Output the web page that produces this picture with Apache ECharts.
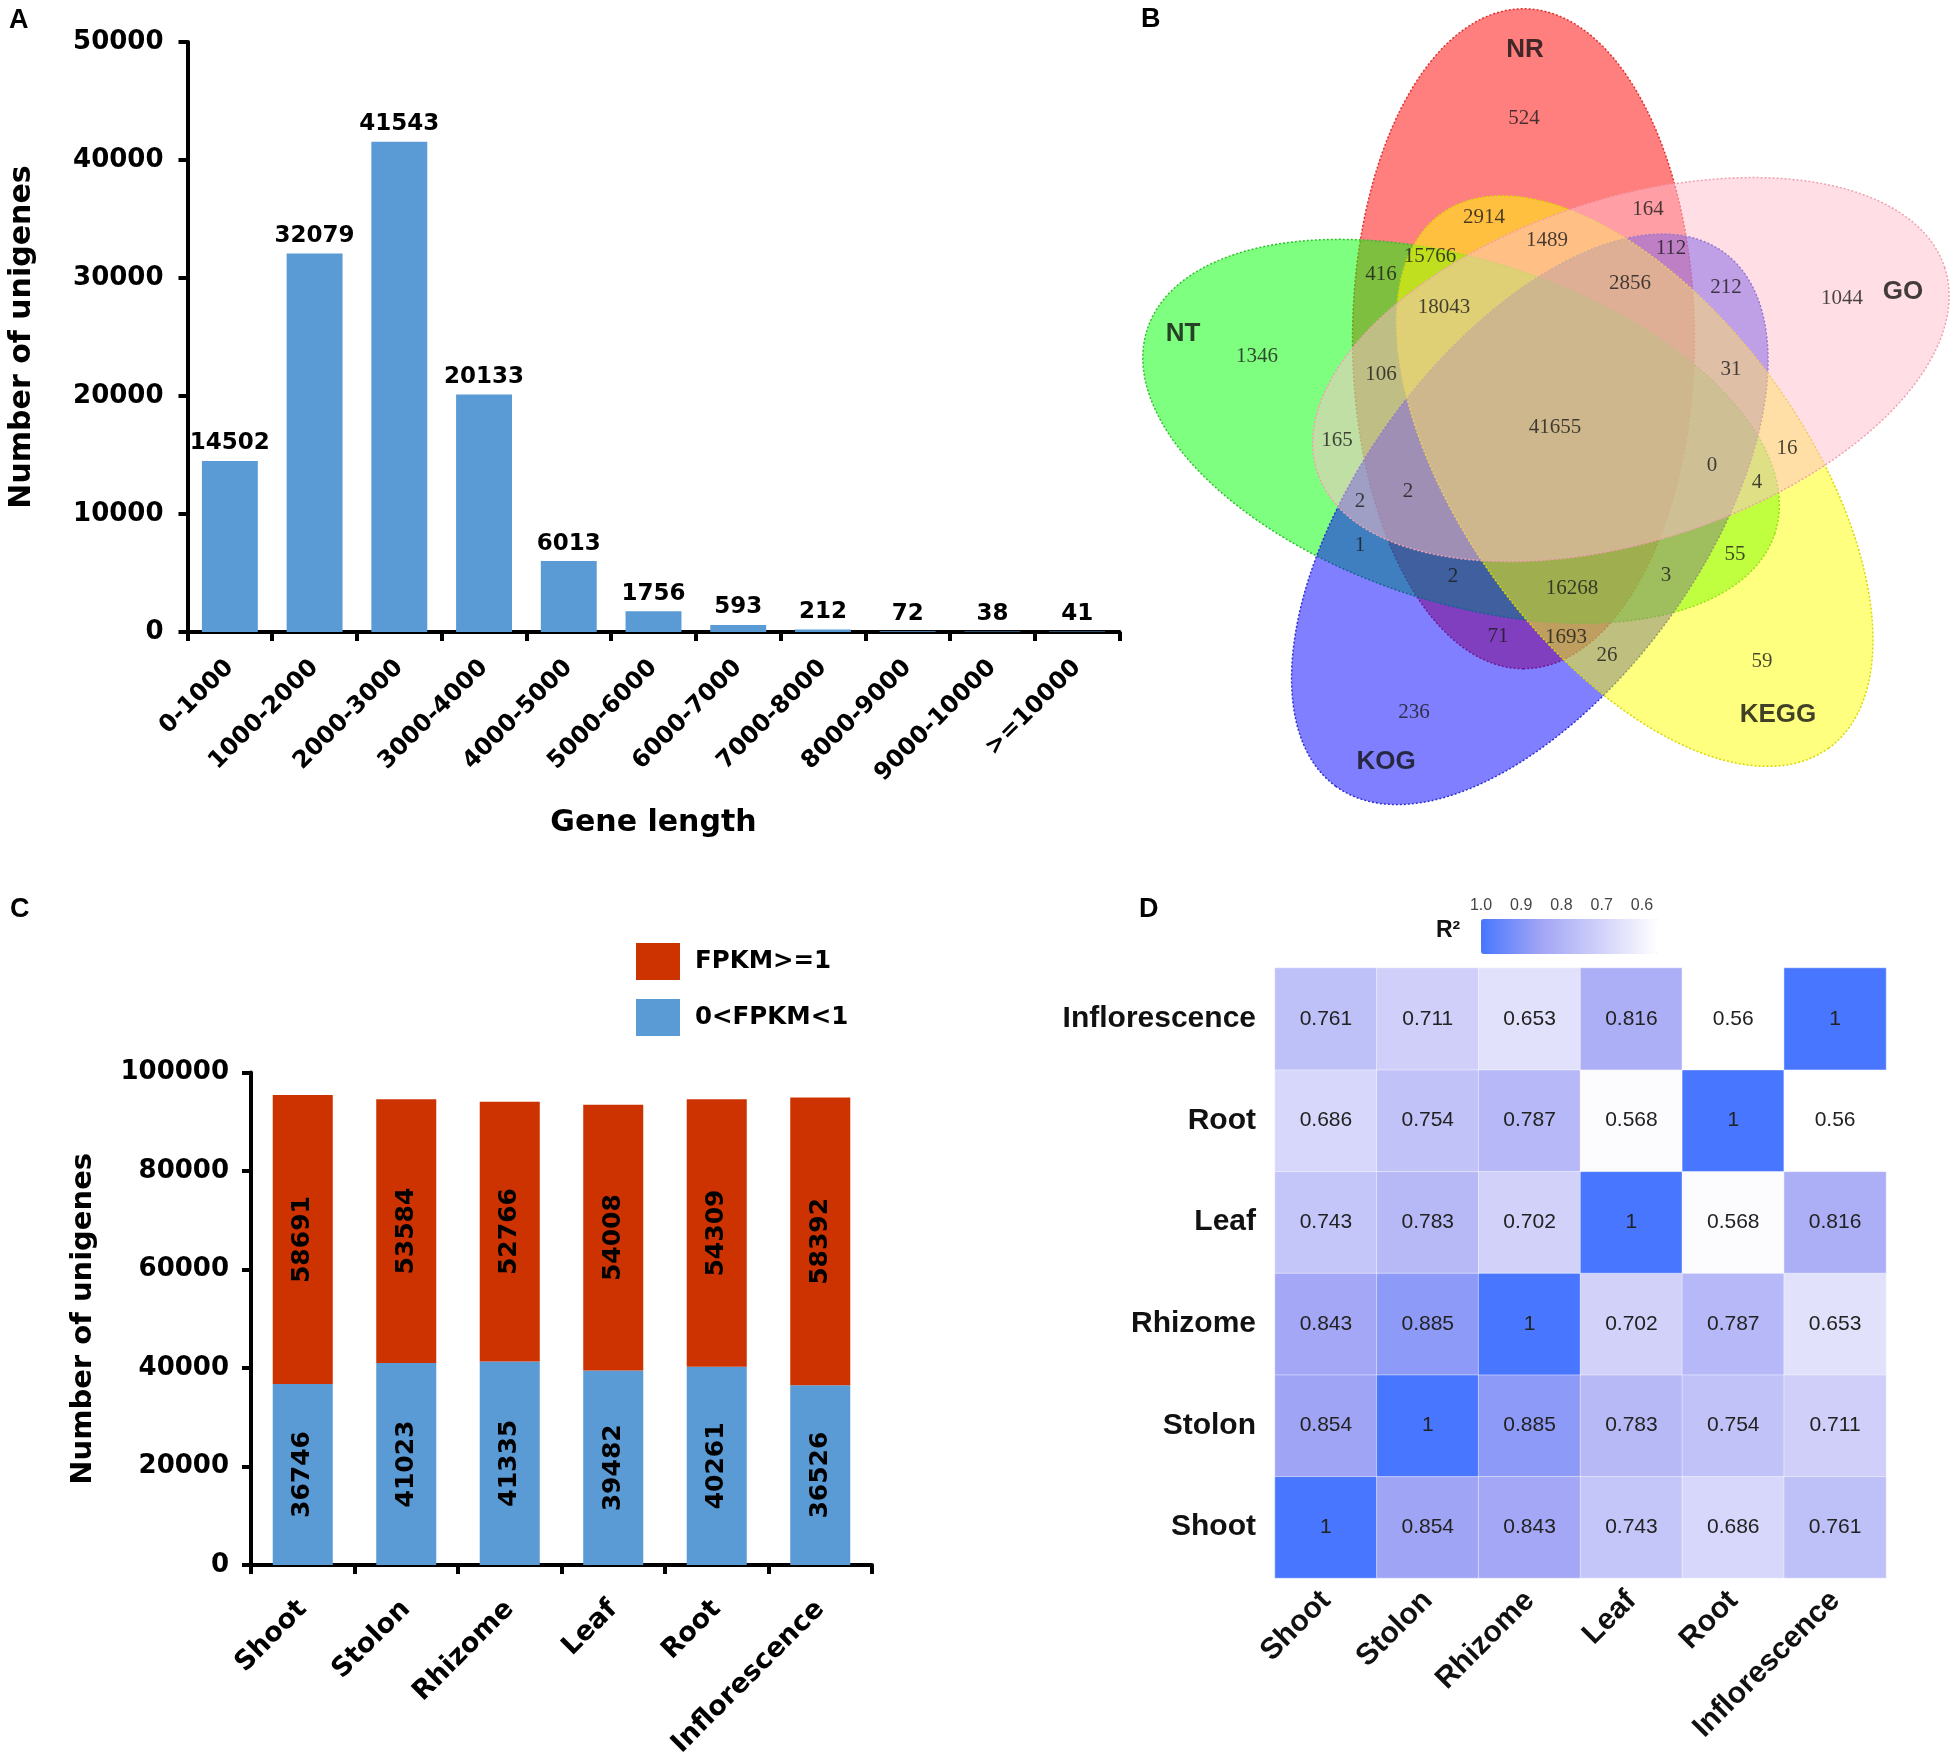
<!DOCTYPE html>
<html>
<head>
<meta charset="utf-8">
<script src="https://cdn.jsdelivr.net/npm/echarts@6/dist/echarts.min.js"></script>
<style>html,body{margin:0;padding:0;background:#fff;}#main{width:1955px;height:1760px;}</style>
</head>
<body>
<div id="main"></div>
<script>
// ---------------- DATA ----------------
const geneLengthCats = ['0-1000','1000-2000','2000-3000','3000-4000','4000-5000','5000-6000','6000-7000','7000-8000','8000-9000','9000-10000','>=10000'];
const geneLengthCounts = [14502, 32079, 41543, 20133, 6013, 1756, 593, 212, 72, 38, 41];

const vennSetNames = ['NR', 'NT', 'KOG', 'KEGG', 'GO'];
const vennCounts = [524, 2914, 164, 1489, 112, 15766, 416, 2856, 212, 18043, 1044, 1346, 106, 31, 41655, 165, 16, 0, 4, 2, 2, 1, 55, 2, 3, 16268, 71, 1693, 26, 59, 236];

const tissues = ['Shoot', 'Stolon', 'Rhizome', 'Leaf', 'Root', 'Inflorescence'];
const fpkmLow = [36746, 41023, 41335, 39482, 40261, 36526];
const fpkmHigh = [58691, 53584, 52766, 54008, 54309, 58392];

const corrShoot = [1, 0.854, 0.843, 0.743, 0.686, 0.761];
const corrStolon = [0.854, 1, 0.885, 0.783, 0.754, 0.711];
const corrRhizome = [0.843, 0.885, 1, 0.702, 0.787, 0.653];
const corrLeaf = [0.743, 0.783, 0.702, 1, 0.568, 0.816];
const corrRoot = [0.686, 0.754, 0.787, 0.568, 1, 0.56];
const corrInflorescence = [0.761, 0.711, 0.653, 0.816, 0.56, 1];
const r2Ticks = [0.6, 0.7, 0.8, 0.9, 1.0];

// ---------------- LAYOUT (Venn geometry, label placement in local venn units) ----------------
const VENN = {
  center: [456, 428], offset: 95, a: 330, b: 171,
  // per set: direction of ellipse centre from diagram centre, major-axis orientation (deg, screen)
  geom: { NR: [250, 90], GO: [322, -18], KEGG: [34, 54], KOG: [106, 126], NT: [178, 18] },
  fill: { NR: 'rgba(255,0,0,0.5)', NT: 'rgba(0,255,0,0.5)', KOG: 'rgba(0,0,255,0.5)', KEGG: 'rgba(255,255,0,0.5)', GO: 'rgba(255,192,203,0.5)' },
  stroke: { NR: '#e03030', NT: '#30c030', KOG: '#3030d0', KEGG: '#d8d800', GO: '#f0a0b0' },
  setLabelPos: { NR: [425, 50], GO: [803, 292], NT: [83, 334], KEGG: [678, 715], KOG: [286, 762] }
};
const vennCountPos = [[424,118],[384,217],[548,209],[447,240],[571,248],[330,256],[281,274],[530,283],[626,287],[344,307],[742,298],[157,356],[281,374],[631,369],[455,427],[237,440],[687,448],[612,465],[657,482],[308,491],[260,501],[260,545],[635,554],[353,576],[566,575],[472,588],[398,636],[466,637],[507,655],[662,661],[314,712]];

// ---------------- BUILD ----------------
const corrRows = [corrShoot, corrStolon, corrRhizome, corrLeaf, corrRoot, corrInflorescence];
const heatData = [];
corrRows.forEach((row, r) => row.forEach((v, c) => heatData.push([c, r, v])));

const BOLD = "'DejaVu Sans', sans-serif";
const ARIAL = "'Liberation Sans', Arial, sans-serif";
const plain = v => String(v);

const chart = echarts.init(document.getElementById('main'), null, { renderer: 'canvas' });

const letterStyle = { fontFamily: ARIAL, fontWeight: 'bold', fontSize: 27, color: '#000' };

const option = {
  backgroundColor: '#fff',
  animation: false,
  title: [
    { text: 'A', left: 9, top: 7, padding: 0, textStyle: letterStyle },
    { text: 'B', left: 1141, top: 6, padding: 0, textStyle: letterStyle },
    { text: 'C', left: 10, top: 896, padding: 0, textStyle: letterStyle },
    { text: 'D', left: 1139, top: 896, padding: 0, textStyle: letterStyle },
    { text: 'R²', left: 1436, top: 919, padding: 0, textStyle: { fontFamily: ARIAL, fontWeight: 'bold', fontSize: 23, color: '#111' } }
  ],
  legend: {
    data: ['FPKM>=1', '0<FPKM<1'],
    orient: 'vertical', left: 636, top: 943, padding: 0,
    itemWidth: 44, itemHeight: 37, itemGap: 19, icon: 'rect', selectedMode: false,
    textStyle: { fontFamily: BOLD, fontWeight: 'bold', fontSize: 24.5, color: '#000', padding: [0, 0, 0, 10] }
  },
  grid: [
    { left: 187.5, top: 42, width: 932, height: 590, outerBoundsMode: 'none' },
    { left: 251, top: 1072.6, width: 621, height: 492.4, outerBoundsMode: 'none' },
    { left: 1275, top: 968, width: 611, height: 610, outerBoundsMode: 'none' },
    { left: 1481, top: 919, width: 177, height: 35, outerBoundsMode: 'none' },
    { left: 1100, top: 0, width: 855, height: 850, outerBoundsMode: 'none' }
  ],
  xAxis: [
    {
      gridIndex: 0, type: 'category', data: geneLengthCats,
      axisLine: { lineStyle: { color: '#000', width: 4 } },
      axisTick: { show: true, length: 9, lineStyle: { color: '#000', width: 4 } },
      axisLabel: { rotate: 45, margin: 32, interval: 0, fontFamily: BOLD, fontWeight: 'bold', fontSize: 24, color: '#000' },
      name: 'Gene length', nameLocation: 'middle', nameGap: 176,
      nameTextStyle: { fontFamily: BOLD, fontWeight: 'bold', fontSize: 30, color: '#000' }
    },
    {
      gridIndex: 1, type: 'category', data: tissues,
      axisLine: { lineStyle: { color: '#000', width: 4 } },
      axisTick: { show: true, length: 9, lineStyle: { color: '#000', width: 4 } },
      axisLabel: { rotate: 45, margin: 40, interval: 0, fontFamily: BOLD, fontWeight: 'bold', fontSize: 27, color: '#000' }
    },
    {
      gridIndex: 2, type: 'category', data: tissues,
      axisLine: { show: false }, axisTick: { show: false },
      axisLabel: { rotate: 45, margin: 18, interval: 0, fontFamily: ARIAL, fontWeight: 'bold', fontSize: 30, color: '#111' }
    },
    {
      gridIndex: 3, type: 'value', min: 0.56, max: 1.0, inverse: true, position: 'top', z: 10,
      axisLine: { show: false }, splitLine: { show: false },
      axisTick: { show: true, inside: true, length: 5, customValues: r2Ticks, lineStyle: { color: '#ffffff', width: 1.5 } },
      axisLabel: { customValues: r2Ticks, formatter: v => v.toFixed(1), margin: 5, fontFamily: ARIAL, fontSize: 16, color: '#444' }
    },
    { gridIndex: 4, type: 'value', min: 0, max: 855, show: false }
  ],
  yAxis: [
    {
      gridIndex: 0, type: 'value', min: 0, max: 50000, interval: 10000,
      axisLine: { show: true, lineStyle: { color: '#000', width: 4 } },
      axisTick: { show: true, length: 9, lineStyle: { color: '#000', width: 4 } },
      splitLine: { show: false },
      axisLabel: { margin: 24, formatter: plain, fontFamily: BOLD, fontWeight: 'bold', fontSize: 26, color: '#000' },
      name: 'Number of unigenes', nameLocation: 'middle', nameRotate: 90, nameGap: 150,
      nameTextStyle: { fontFamily: BOLD, fontWeight: 'bold', fontSize: 30, color: '#000' }
    },
    {
      gridIndex: 1, type: 'value', min: 0, max: 100000, interval: 20000,
      axisLine: { show: true, lineStyle: { color: '#000', width: 4 } },
      axisTick: { show: true, length: 9, lineStyle: { color: '#000', width: 4 } },
      splitLine: { show: false },
      axisLabel: { margin: 22, formatter: plain, fontFamily: BOLD, fontWeight: 'bold', fontSize: 26, color: '#000' },
      name: 'Number of unigenes', nameLocation: 'middle', nameRotate: 90, nameGap: 153,
      nameTextStyle: { fontFamily: BOLD, fontWeight: 'bold', fontSize: 29, color: '#000' }
    },
    {
      gridIndex: 2, type: 'category', data: tissues,
      axisLine: { show: false }, axisTick: { show: false },
      axisLabel: { margin: 19, fontFamily: ARIAL, fontWeight: 'bold', fontSize: 30, color: '#111' }
    },
    { gridIndex: 3, type: 'value', min: 0, max: 1, show: false },
    { gridIndex: 4, type: 'value', min: 0, max: 850, inverse: true, show: false }
  ],
  visualMap: {
    type: 'continuous', seriesIndex: 3, min: 0.56, max: 1.0,
    orient: 'horizontal', inverse: true, left: 1481, top: 919, padding: 0,
    itemWidth: 35, itemHeight: 177, calculable: false, hoverLink: false, text: null, showLabel: false,
    inRange: { color: ['#ffffff', '#d0d0fa', '#a0a4f5', '#4876ff'] }
  },
  series: [
    {
      type: 'bar', xAxisIndex: 0, yAxisIndex: 0, data: geneLengthCounts, barWidth: '66%',
      itemStyle: { color: '#5b9bd5' },
      label: { show: true, position: 'top', distance: 6, fontFamily: BOLD, fontWeight: 'bold', fontSize: 23, color: '#000' }
    },
    {
      name: '0<FPKM<1', type: 'bar', stack: 'all', xAxisIndex: 1, yAxisIndex: 1, data: fpkmLow, barWidth: '58%',
      itemStyle: { color: '#5b9bd5' },
      label: { show: true, position: 'inside', rotate: 90, fontFamily: BOLD, fontWeight: 'bold', fontSize: 25, color: '#000' }
    },
    {
      name: 'FPKM>=1', type: 'bar', stack: 'all', xAxisIndex: 1, yAxisIndex: 1, data: fpkmHigh, barWidth: '58%',
      itemStyle: { color: '#cc3300' },
      label: { show: true, position: 'inside', rotate: 90, fontFamily: BOLD, fontWeight: 'bold', fontSize: 25, color: '#000' }
    },
    {
      type: 'heatmap', xAxisIndex: 2, yAxisIndex: 2, data: heatData,
      itemStyle: { borderColor: 'rgba(255,255,255,0.45)', borderWidth: 1 },
      label: { show: true, formatter: p => String(p.value[2]), fontFamily: ARIAL, fontSize: 21, color: '#222' }
    },
    {
      type: 'custom', xAxisIndex: 4, yAxisIndex: 4, z: 2,
      data: vennSetNames.map((n, i) => [i]),
      encode: { x: 0 },
      renderItem: function (params, api) {
        const name = vennSetNames[api.value(0)];
        const g = VENN.geom[name];
        const dr = g[0] * Math.PI / 180, phi = g[1] * Math.PI / 180;
        const cx = VENN.center[0] + VENN.offset * Math.cos(dr);
        const cy = VENN.center[1] + VENN.offset * Math.sin(dr);
        const pts = [];
        for (let k = 0; k < 180; k++) {
          const t = 2 * Math.PI * k / 180;
          const x = cx + VENN.a * Math.cos(t) * Math.cos(phi) - VENN.b * Math.sin(t) * Math.sin(phi);
          const y = cy + VENN.a * Math.cos(t) * Math.sin(phi) + VENN.b * Math.sin(t) * Math.cos(phi);
          pts.push(api.coord([x, y]));
        }
        return {
          type: 'polygon', shape: { points: pts },
          style: { fill: VENN.fill[name], stroke: VENN.stroke[name], lineWidth: 1.5, lineDash: [2, 2] }
        };
      }
    },
    {
      type: 'scatter', xAxisIndex: 4, yAxisIndex: 4, z: 5, symbolSize: 1,
      itemStyle: { color: 'rgba(0,0,0,0)' },
      data: vennCounts.map((v, i) => [vennCountPos[i][0], vennCountPos[i][1], v]),
      label: { show: true, position: 'inside', formatter: p => String(p.value[2]), fontFamily: "'Liberation Serif', 'Times New Roman', serif", fontSize: 21, color: '#1a1a1a' }
    },
    {
      type: 'scatter', xAxisIndex: 4, yAxisIndex: 4, z: 5, symbolSize: 1,
      itemStyle: { color: 'rgba(0,0,0,0)' },
      data: vennSetNames.map(n => [VENN.setLabelPos[n][0], VENN.setLabelPos[n][1], n]),
      label: { show: true, position: 'inside', formatter: p => p.value[2], fontFamily: ARIAL, fontWeight: 'bold', fontSize: 26, color: '#111' }
    }
  ]
};
chart.setOption(option);
</script>
</body>
</html>
